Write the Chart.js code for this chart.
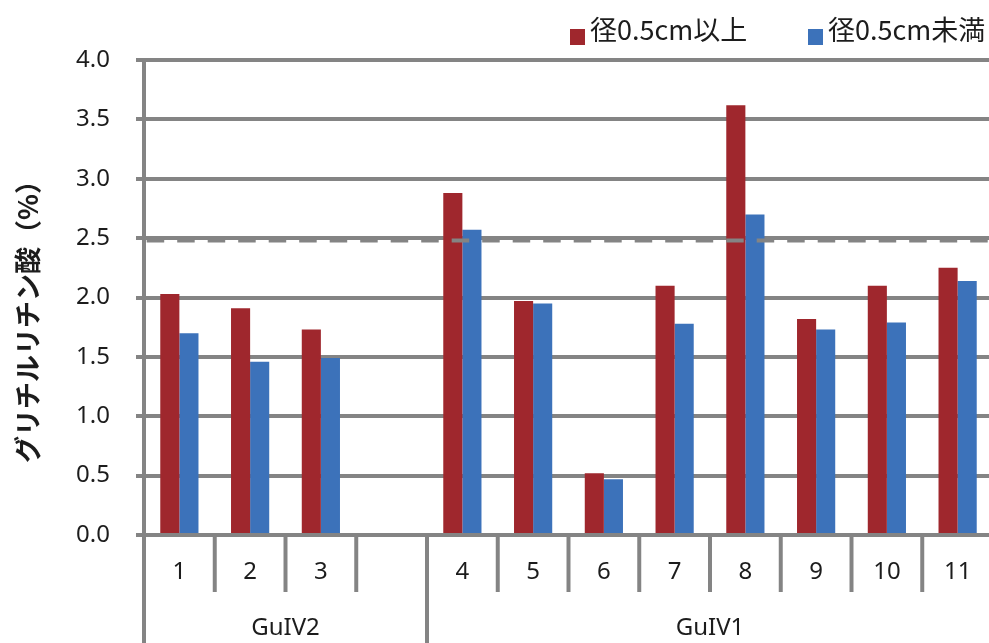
<!DOCTYPE html>
<html>
<head>
<meta charset="utf-8">
<script src="https://cdn.jsdelivr.net/npm/chart.js@4/dist/chart.umd.min.js"></script>
<style>
  html, body { margin: 0; padding: 0; background: #fff; overflow: hidden; }
  #wrap { width: 989px; height: 643px; overflow: hidden; }
  canvas { display: block; }
</style>
</head>
<body>
<div id="wrap"><canvas id="c" width="1000" height="643"></canvas></div>
<script>
// Sample numbers along the x axis; the empty slot separates the two strains
const categories = ['1', '2', '3', '', '4', '5', '6', '7', '8', '9', '10', '11'];

// Glycyrrhizic acid content (%) by root diameter
const thickRoots = [2.03, 1.91, 1.73, null, 2.88, 1.97, 0.52, 2.10, 3.62, 1.82, 2.10, 2.25];
const thinRoots  = [1.70, 1.46, 1.49, null, 2.57, 1.95, 0.47, 1.78, 2.70, 1.73, 1.79, 2.14];

const seriesNames = ['径0.5cm以上', '径0.5cm未満'];

// Strain groups shown beneath the sample numbers (first and last category index)
const groupNames = ['GuIV2', 'GuIV1'];
const groupStart = [0, 4];
const groupEnd   = [3, 11];

// Reference level drawn as a dashed line
const referenceLevel = 2.48;

const yTicks = [0, 0.5, 1, 1.5, 2, 2.5, 3, 3.5, 4];

const GRID = '#848484';
const TEXT = '#1c1c1c';
const RED = '#9f272d';
const BLUE = '#3c72ba';
const LATIN = '"Noto Sans", "Noto Sans CJK JP", sans-serif';
const CJK = '"Noto Sans CJK JP", "Noto Sans", sans-serif';

const decorations = {
  id: 'decorations',
  beforeDraw(chart) {
    const ctx = chart.ctx;
    ctx.save();
    ctx.fillStyle = '#fff';
    ctx.fillRect(0, 0, chart.width, chart.height);
    ctx.restore();
  },
  afterDatasetsDraw(chart) {
    const ctx = chart.ctx;
    const x = chart.scales.x;
    const y = chart.scales.y;
    const area = chart.chartArea;
    const slot = x.getPixelForValue(1) - x.getPixelForValue(0);
    const edge = i => x.getPixelForValue(0) - slot / 2 + i * slot;

    // dashed reference line, drawn over the bars
    ctx.save();
    const ry = y.getPixelForValue(referenceLevel);
    ctx.strokeStyle = GRID;
    ctx.lineWidth = 4;
    ctx.setLineDash([17.5, 13]);
    ctx.lineDashOffset = 27.8;
    ctx.beginPath();
    ctx.moveTo(area.left, ry);
    ctx.lineTo(area.right, ry);
    ctx.stroke();
    ctx.restore();

    // category separators below the axis: long at group boundaries, short elsewhere
    const longEdges = new Set();
    groupStart.forEach(s => longEdges.add(s));
    groupEnd.forEach(e => longEdges.add(e + 1));
    ctx.save();
    ctx.strokeStyle = GRID;
    ctx.lineWidth = 4;
    for (let i = 0; i <= categories.length; i++) {
      const px = edge(i);
      ctx.beginPath();
      ctx.moveTo(px, area.bottom);
      ctx.lineTo(px, longEdges.has(i) ? chart.height : area.bottom + 57);
      ctx.stroke();
    }
    ctx.restore();

    // strain group names
    ctx.save();
    ctx.fillStyle = TEXT;
    ctx.font = '24px ' + LATIN;
    ctx.textAlign = 'center';
    ctx.textBaseline = 'middle';
    groupNames.forEach((g, k) => {
      const cx = (edge(groupStart[k]) + edge(groupEnd[k] + 1)) / 2;
      ctx.fillText(g, cx, 628);
    });
    ctx.restore();

    // y axis title
    ctx.save();
    ctx.fillStyle = TEXT;
    ctx.font = 'bold 27px ' + CJK;
    ctx.textAlign = 'center';
    ctx.textBaseline = 'middle';
    ctx.translate(28, 315);
    ctx.rotate(-Math.PI / 2);
    ctx.fillText('グリチルリチン酸（%）', 0, 0);
    ctx.restore();

    // legend
    ctx.save();
    ctx.font = '27px ' + CJK;
    ctx.textBaseline = 'middle';
    ctx.textAlign = 'left';
    const legendX = [570, 808];
    chart.data.datasets.forEach((ds, k) => {
      ctx.fillStyle = ds.backgroundColor;
      ctx.fillRect(legendX[k], 29, 15, 16);
      ctx.fillStyle = TEXT;
      ctx.fillText(ds.label, legendX[k] + 20, 30);
    });
    ctx.restore();
  }
};

new Chart(document.getElementById('c'), {
  type: 'bar',
  data: {
    labels: categories,
    datasets: [
      { label: seriesNames[0], data: thickRoots, backgroundColor: RED },
      { label: seriesNames[1], data: thinRoots, backgroundColor: BLUE }
    ]
  },
  options: {
    responsive: false,
    animation: false,
    devicePixelRatio: 1,
    layout: { padding: { top: 60, right: 7, left: 0, bottom: 0 } },
    datasets: { bar: { categoryPercentage: 0.54, barPercentage: 1.0 } },
    plugins: {
      legend: { display: false },
      tooltip: { enabled: false }
    },
    scales: {
      x: {
        type: 'category',
        offset: true,
        grid: { display: false, drawTicks: false },
        border: { display: false },
        ticks: {
          color: TEXT,
          font: { size: 24, family: LATIN },
          padding: 23,
          maxRotation: 0,
          autoSkip: false
        },
        afterFit(scale) { scale.height = 108; }
      },
      y: {
        min: 0,
        max: 4,
        afterBuildTicks(scale) { scale.ticks = yTicks.map(v => ({ value: v })); },
        grid: { color: GRID, lineWidth: 4, tickLength: 8, tickColor: GRID, drawTicks: true },
        border: { display: true, color: GRID, width: 4 },
        ticks: {
          color: TEXT,
          font: { size: 24, family: LATIN },
          padding: 26,
          callback: v => Number(v).toFixed(1)
        },
        afterFit(scale) { scale.width = 144; }
      }
    }
  },
  plugins: [decorations]
});
</script>
</body>
</html>
